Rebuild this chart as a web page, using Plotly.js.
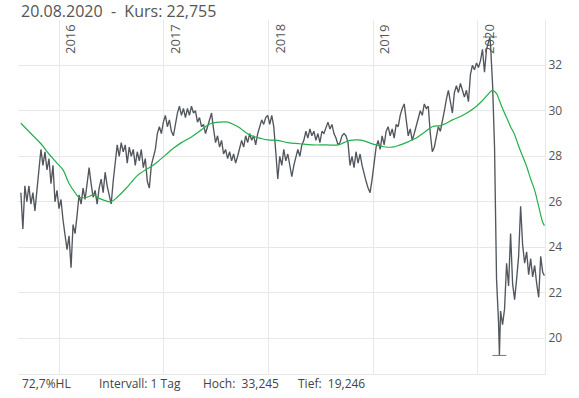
<!DOCTYPE html>
<html>
<head>
<meta charset="utf-8">
<script src="https://cdn.plot.ly/plotly-3.0.1.min.js"></script>
<style>html,body{margin:0;padding:0;background:#fff;}#chart{width:579px;height:398px;}</style>
</head>
<body>
<div id="chart"></div>
<script>
// Weekly closing prices plus a few daily extremes
const priceDates = [
"2015-08-21","2015-08-28","2015-09-04","2015-09-11","2015-09-18","2015-09-25","2015-10-02","2015-10-09","2015-10-16","2015-10-23",
"2015-10-30","2015-11-06","2015-11-13","2015-11-20","2015-11-27","2015-12-04","2015-12-11","2015-12-18","2015-12-25","2016-01-01",
"2016-01-08","2016-01-15","2016-01-22","2016-01-29","2016-02-05","2016-02-12","2016-02-19","2016-02-26","2016-03-04","2016-03-11",
"2016-03-18","2016-03-25","2016-04-01","2016-04-08","2016-04-15","2016-04-22","2016-04-29","2016-05-06","2016-05-13","2016-05-20",
"2016-05-27","2016-06-03","2016-06-10","2016-06-17","2016-06-24","2016-07-01","2016-07-08","2016-07-15","2016-07-22","2016-07-29",
"2016-08-05","2016-08-12","2016-08-19","2016-08-26","2016-09-02","2016-09-09","2016-09-16","2016-09-23","2016-09-30","2016-10-07",
"2016-10-14","2016-10-21","2016-10-28","2016-11-04","2016-11-11","2016-11-18","2016-11-25","2016-12-02","2016-12-09","2016-12-16",
"2016-12-23","2016-12-30","2017-01-06","2017-01-13","2017-01-20","2017-01-27","2017-02-03","2017-02-10","2017-02-17","2017-02-24",
"2017-03-03","2017-03-10","2017-03-17","2017-03-24","2017-03-31","2017-04-07","2017-04-14","2017-04-21","2017-04-28","2017-05-05",
"2017-05-12","2017-05-19","2017-05-26","2017-06-02","2017-06-09","2017-06-16","2017-06-23","2017-06-30","2017-07-07","2017-07-14",
"2017-07-21","2017-07-28","2017-08-04","2017-08-11","2017-08-18","2017-08-25","2017-09-01","2017-09-08","2017-09-15","2017-09-22",
"2017-09-29","2017-10-06","2017-10-13","2017-10-20","2017-10-27","2017-11-03","2017-11-10","2017-11-17","2017-11-24","2017-12-01",
"2017-12-08","2017-12-15","2017-12-22","2017-12-29","2018-01-05","2018-01-12","2018-01-19","2018-01-26","2018-02-02","2018-02-09",
"2018-02-16","2018-02-23","2018-03-02","2018-03-09","2018-03-16","2018-03-23","2018-03-30","2018-04-06","2018-04-13","2018-04-20",
"2018-04-27","2018-05-04","2018-05-11","2018-05-18","2018-05-25","2018-06-01","2018-06-08","2018-06-15","2018-06-22","2018-06-29",
"2018-07-06","2018-07-13","2018-07-20","2018-07-27","2018-08-03","2018-08-10","2018-08-17","2018-08-24","2018-08-31","2018-09-07",
"2018-09-14","2018-09-21","2018-09-28","2018-10-05","2018-10-12","2018-10-19","2018-10-26","2018-11-02","2018-11-09","2018-11-16",
"2018-11-23","2018-11-30","2018-12-07","2018-12-14","2018-12-21","2018-12-28","2019-01-04","2019-01-11","2019-01-18","2019-01-25",
"2019-02-01","2019-02-08","2019-02-15","2019-02-22","2019-03-01","2019-03-08","2019-03-15","2019-03-22","2019-03-29","2019-04-05",
"2019-04-12","2019-04-19","2019-04-26","2019-05-03","2019-05-10","2019-05-17","2019-05-24","2019-05-31","2019-06-07","2019-06-14",
"2019-06-21","2019-06-28","2019-07-05","2019-07-12","2019-07-19","2019-07-26","2019-08-02","2019-08-09","2019-08-16","2019-08-23",
"2019-08-30","2019-09-06","2019-09-13","2019-09-20","2019-09-27","2019-10-04","2019-10-11","2019-10-18","2019-10-25","2019-11-01",
"2019-11-08","2019-11-15","2019-11-22","2019-11-29","2019-12-06","2019-12-13","2019-12-20","2019-12-27","2020-01-03","2020-01-10",
"2020-01-17","2020-01-24","2020-01-31","2020-02-07","2020-02-12","2020-02-14","2020-02-21","2020-02-28","2020-03-06","2020-03-13",
"2020-03-16","2020-03-20","2020-03-27","2020-04-03","2020-04-10","2020-04-17","2020-04-24","2020-05-01","2020-05-08","2020-05-15",
"2020-05-22","2020-05-29","2020-06-05","2020-06-12","2020-06-19","2020-06-26","2020-07-03","2020-07-10","2020-07-17","2020-07-24",
"2020-07-31","2020-08-07","2020-08-14","2020-08-20"
];
const priceValues = [
26.4,24.8,26.7,26.0,26.7,25.9,26.4,25.6,26.5,27.6,
28.3,27.6,28.2,27.4,27.9,26.8,27.6,26.0,26.5,25.7,
26.1,25.2,24.6,23.9,24.5,23.1,25.0,24.6,25.4,26.3,
25.9,26.6,26.1,26.9,27.5,26.8,26.2,26.5,25.9,26.6,
27.0,26.4,27.3,26.7,26.3,25.9,26.9,27.8,28.5,28.0,
28.6,28.2,28.5,27.7,28.4,28.0,28.3,27.6,28.2,27.8,
28.3,27.5,27.9,26.9,26.6,27.6,27.9,28.3,29.0,29.3,
29.0,29.5,29.8,29.3,29.6,29.1,28.9,29.5,29.9,30.2,
29.8,30.1,29.7,30.1,29.8,30.2,29.9,30.0,29.5,29.7,
29.3,29.4,29.0,29.3,29.6,29.9,29.2,28.6,28.9,28.4,
28.7,28.1,28.3,27.9,28.2,27.8,28.1,27.7,28.0,28.3,
28.7,28.4,28.9,28.6,29.0,28.7,28.9,28.5,29.0,29.3,
29.6,29.4,29.7,29.8,29.4,29.8,29.3,28.2,27.0,28.0,
27.6,28.3,27.8,28.1,27.5,27.1,27.6,27.9,28.3,28.0,
28.5,28.7,29.1,28.8,29.2,28.9,29.1,28.7,29.0,28.6,
29.1,29.0,29.3,29.5,29.2,29.4,29.0,28.8,28.5,28.6,
28.9,29.0,28.9,28.6,27.6,28.0,27.5,28.2,27.7,28.1,
27.6,27.2,26.9,26.6,26.4,27.0,27.8,28.4,28.7,28.3,
28.9,28.5,29.1,29.3,28.9,29.2,28.8,29.4,29.3,29.8,
30.1,30.3,29.6,28.9,29.2,28.7,29.0,29.3,29.7,30.0,
29.8,30.3,30.1,30.2,29.0,28.2,28.4,28.8,29.3,29.1,
29.5,30.0,30.5,30.9,30.4,29.9,30.8,31.1,30.8,31.2,
30.9,30.6,30.9,30.4,31.6,32.0,31.8,32.1,31.9,32.2,
32.7,31.7,32.7,33.0,33.245,32.9,31.2,28.4,22.6,20.7,
19.246,21.2,20.6,21.3,23.3,22.3,24.6,22.4,21.7,22.6,
23.6,25.8,24.1,23.3,23.8,22.8,23.5,22.7,23.2,22.4,
21.8,23.6,22.9,22.755
];

// Moving average (green line)
const maDates = [
"2015-08-21","2015-09-25","2015-10-30","2015-11-27","2015-12-25","2016-01-15","2016-02-05","2016-02-26","2016-03-11","2016-04-08",
"2016-04-29","2016-05-20","2016-06-10","2016-07-01","2016-07-22","2016-08-19","2016-09-09","2016-09-30","2016-10-28","2016-11-18",
"2016-12-09","2017-01-06","2017-02-03","2017-03-03","2017-04-07","2017-05-05","2017-05-26","2017-06-16","2017-07-14","2017-08-11",
"2017-09-01","2017-09-22","2017-10-13","2017-11-03","2017-12-01","2017-12-29","2018-02-02","2018-03-09","2018-04-20","2018-06-01",
"2018-07-20","2018-08-31","2018-09-21","2018-10-12","2018-11-09","2018-11-30","2018-12-21","2019-01-11","2019-02-08","2019-03-08",
"2019-04-05","2019-04-26","2019-05-31","2019-06-28","2019-07-26","2019-08-23","2019-09-13","2019-10-04","2019-11-01","2019-11-29",
"2019-12-27","2020-01-17","2020-02-07","2020-02-21","2020-03-06","2020-03-13","2020-03-27","2020-04-10","2020-04-24","2020-05-08",
"2020-05-22","2020-06-05","2020-06-19","2020-07-03","2020-07-17","2020-07-31","2020-08-14","2020-08-20"
];
const maValues = [
29.45,29.0,28.55,28.1,27.7,27.4,26.8,26.4,26.2,26.2,
26.3,26.15,26.05,26.0,26.2,26.55,26.85,27.15,27.4,27.55,
27.75,28.05,28.35,28.6,28.85,29.1,29.3,29.45,29.5,29.5,
29.4,29.25,29.05,28.9,28.8,28.72,28.7,28.6,28.55,28.5,
28.5,28.5,28.6,28.7,28.72,28.68,28.58,28.5,28.42,28.4,
28.5,28.6,28.8,29.05,29.3,29.35,29.45,29.6,29.75,29.95,
30.2,30.45,30.75,30.9,30.75,30.55,30.1,29.7,29.3,28.95,
28.45,28.0,27.55,27.0,26.5,25.8,25.1,24.95
];

const yearTicks = ["2016-01-01","2017-01-01","2018-01-01","2019-01-01","2020-01-01"];
const yearLabels = ["2016","2017","2018","2019","2020"];
const yTicks = [20,22,24,26,28,30,32];

const fmt = (v, d) => v.toFixed(d).replace('.', ',');
const hi = Math.max(...priceValues), lo = Math.min(...priceValues);
const hiDate = priceDates[priceValues.indexOf(hi)], loDate = priceDates[priceValues.indexOf(lo)];
const lastDate = priceDates[priceDates.length - 1], lastVal = priceValues[priceValues.length - 1];
const dp = lastDate.split('-');
const titleText = dp[2] + '.' + dp[1] + '.' + dp[0] + '\u00a0\u00a0-\u00a0\u00a0Kurs: ' + fmt(lastVal, 3);
const hl = fmt((hi - lo) / lo * 100, 1) + '%HL';

const font = 'Open Sans, sans-serif';
const grey = '#555';
const grid = '#e8e8e8';

const traces = [
  {x: priceDates, y: priceValues, type: 'scatter', mode: 'lines',
   line: {color: '#52575e', width: 1.35}, hoverinfo: 'x+y'},
  {x: maDates, y: maValues, type: 'scatter', mode: 'lines',
   line: {color: '#22b04a', width: 1.2, shape: 'spline'}, hoverinfo: 'x+y'},
  {x: [hiDate, loDate], y: [hi, lo], type: 'scatter', mode: 'markers',
   marker: {symbol: 'line-ew', size: 10, line: {color: '#777', width: 1}}, hoverinfo: 'x+y'}
];

const annotations = yearLabels.map((t, i) => ({
  text: t, x: yearTicks[i], xref: 'x', y: 1, yref: 'paper',
  xanchor: 'left', yanchor: 'top', textangle: -90, showarrow: false,
  xshift: 0, yshift: -2, font: {family: font, size: 13, color: grey}
}));
const footer = [[hl, 0.004], ['Intervall: 1 Tag', 0.150], ['Hoch:\u00a0\u00a0' + fmt(hi, 3), 0.348], ['Tief:\u00a0\u00a0' + fmt(lo, 3), 0.528]];
footer.forEach(f => annotations.push({
  text: f[0], x: f[1], xref: 'paper', y: -0.026, yref: 'paper', xanchor: 'left', yanchor: 'middle',
  showarrow: false, font: {family: font, size: 12, color: '#444'}
}));

const layout = {
  width: 579, height: 398,
  margin: {l: 18, r: 34, t: 20, b: 24, pad: 0},
  paper_bgcolor: '#fff', plot_bgcolor: '#fff',
  showlegend: false,
  title: {text: titleText, x: 21 / 579, xref: 'container', xanchor: 'left', y: 1 - 11 / 398, yref: 'container', yanchor: 'middle',
          font: {family: font, size: 16, color: grey}},
  xaxis: {type: 'date', range: ['2015-08-11', '2020-08-22'], tickmode: 'array', tickvals: yearTicks,
          showticklabels: false, ticks: '', showgrid: true, gridcolor: grid, gridwidth: 1,
          showline: true, linecolor: grid, linewidth: 1, zeroline: false, fixedrange: true},
  yaxis: {side: 'right', range: [18.43, 33.99], tickmode: 'array', tickvals: yTicks, ticktext: yTicks.map(String),
          ticks: '', showgrid: true, gridcolor: grid, gridwidth: 1, showline: true, linecolor: grid, linewidth: 1,
          zeroline: false, tickfont: {family: font, size: 12, color: grey}, fixedrange: true},
  annotations: annotations
};

Plotly.newPlot('chart', traces, layout, {displayModeBar: false, staticPlot: true});
</script>
</body>
</html>
